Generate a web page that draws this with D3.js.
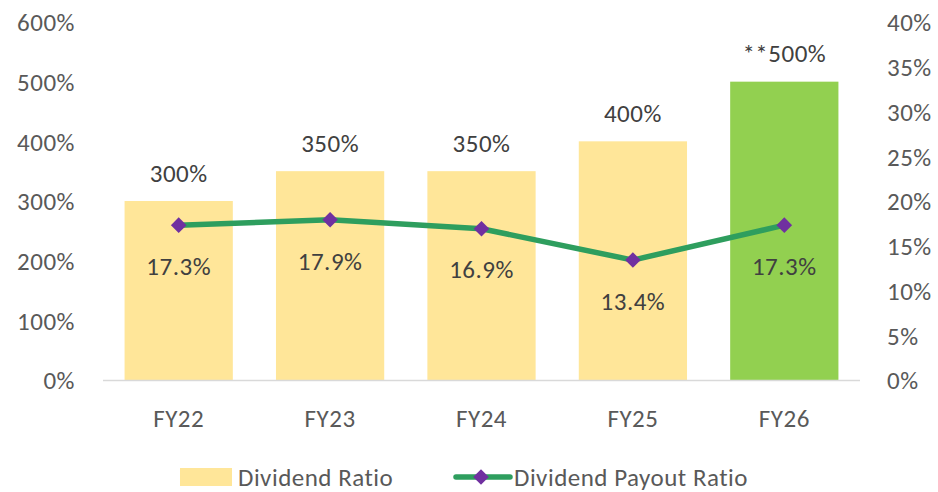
<!DOCTYPE html>
<html>
<head>
<meta charset="utf-8">
<script src="https://cdn.jsdelivr.net/npm/d3@7/dist/d3.min.js"></script>
<style>
  body { margin: 0; background: #fff; }
  text { font-family: Calibri, Carlito, Lato, "Open Sans", sans-serif; letter-spacing: 0.5px; }
</style>
</head>
<body>
<div id="chart"></div>
<script>
  var years = ["FY22", "FY23", "FY24", "FY25", "FY26"];
  var dividendRatio = [300, 350, 350, 400, 500];
  var barLabels = ["300%", "350%", "350%", "400%", "**500%"];
  var payoutRatio = [17.3, 17.9, 16.9, 13.4, 17.3];
  var leftTicks = [0, 100, 200, 300, 400, 500, 600];
  var rightTicks = [0, 5, 10, 15, 20, 25, 30, 35, 40];

  var width = 938, height = 492;
  var plotLeft = 103, plotRight = 860, plotTop = 22, plotBottom = 380;
  var fontSize = "25px";

  var svg = d3.select("#chart").append("svg")
    .attr("width", width)
    .attr("height", height);

  var x = d3.scaleBand().domain(years).range([plotLeft, plotRight]).paddingInner(0.285).paddingOuter(0.1425);
  var yL = d3.scaleLinear().domain([0, 600]).range([plotBottom, plotTop]);
  var yR = d3.scaleLinear().domain([0, 40]).range([plotBottom, plotTop]);

  // left axis
  svg.append("g")
    .attr("transform", "translate(75,0)")
    .call(d3.axisLeft(yL).tickValues(leftTicks).tickSize(0).tickFormat(function (d) { return d + "%"; }))
    .call(function (g) { g.select(".domain").remove(); })
    .selectAll("text")
    .attr("x", 0)
    .attr("dy", "0.35em")
    .style("font-size", fontSize)
    .style("fill", "#595959");

  // right axis
  svg.append("g")
    .attr("transform", "translate(887,0)")
    .call(d3.axisRight(yR).tickValues(rightTicks).tickSize(0).tickFormat(function (d) { return d + "%"; }))
    .call(function (g) { g.select(".domain").remove(); })
    .selectAll("text")
    .attr("x", 0)
    .attr("dy", "0.35em")
    .style("font-size", fontSize)
    .style("fill", "#595959");

  // bars
  svg.selectAll(".bar")
    .data(years)
    .enter().append("rect")
    .attr("class", "bar")
    .attr("x", function (d) { return x(d); })
    .attr("width", x.bandwidth())
    .attr("y", function (d, i) { return yL(dividendRatio[i]); })
    .attr("height", function (d, i) { return plotBottom - yL(dividendRatio[i]); })
    .attr("fill", function (d, i) { return i === years.length - 1 ? "#92D050" : "#FFE699"; });

  // baseline
  svg.append("line")
    .attr("x1", plotLeft).attr("x2", plotRight)
    .attr("y1", plotBottom + 0.5).attr("y2", plotBottom + 0.5)
    .attr("stroke", "#D9D9D9")
    .attr("stroke-width", 1.5);

  // category labels
  svg.append("g")
    .attr("transform", "translate(0," + plotBottom + ")")
    .call(d3.axisBottom(x).tickSize(0))
    .call(function (g) { g.select(".domain").remove(); })
    .selectAll("text")
    .attr("y", 38)
    .attr("dy", "0.35em")
    .style("font-size", fontSize)
    .style("fill", "#595959");

  // bar labels
  svg.selectAll(".barLabel")
    .data(years)
    .enter().append("text")
    .attr("class", "barLabel")
    .attr("x", function (d) { return x(d) + x.bandwidth() / 2; })
    .attr("y", function (d, i) { return yL(dividendRatio[i]) - 28; })
    .attr("dy", "0.35em")
    .attr("text-anchor", "middle")
    .style("font-size", fontSize)
    .style("fill", "#404040")
    .text(function (d, i) { return barLabels[i]; });

  // payout line
  var line = d3.line()
    .x(function (d, i) { return x(years[i]) + x.bandwidth() / 2; })
    .y(function (d) { return yR(d); });

  svg.append("path")
    .datum(payoutRatio)
    .attr("d", line)
    .attr("fill", "none")
    .attr("stroke", "#2E9E5E")
    .attr("stroke-width", 5.5)
    .attr("stroke-linejoin", "round");

  var diamond = d3.symbol().type(d3.symbolDiamond2).size(155);

  svg.selectAll(".marker")
    .data(payoutRatio)
    .enter().append("path")
    .attr("class", "marker")
    .attr("d", diamond)
    .attr("transform", function (d, i) {
      return "translate(" + (x(years[i]) + x.bandwidth() / 2) + "," + yR(d) + ")";
    })
    .attr("fill", "#7030A0");

  svg.selectAll(".lineLabel")
    .data(payoutRatio)
    .enter().append("text")
    .attr("class", "lineLabel")
    .attr("x", function (d, i) { return x(years[i]) + x.bandwidth() / 2; })
    .attr("y", function (d) { return yR(d) + 41; })
    .attr("dy", "0.35em")
    .attr("text-anchor", "middle")
    .style("font-size", fontSize)
    .style("fill", "#404040")
    .text(function (d) { return d.toFixed(1) + "%"; });

  // legend
  var legend = svg.append("g").attr("class", "legend");
  legend.append("rect")
    .attr("x", 180).attr("y", 468)
    .attr("width", 52).attr("height", 18)
    .attr("fill", "#FFE699");
  legend.append("text")
    .attr("x", 238).attr("y", 477)
    .attr("dy", "0.35em")
    .style("font-size", fontSize)
    .style("fill", "#595959")
    .text("Dividend Ratio");

  legend.append("line")
    .attr("x1", 456).attr("x2", 510)
    .attr("y1", 477).attr("y2", 477)
    .attr("stroke", "#2E9E5E")
    .attr("stroke-width", 5.5)
    .attr("stroke-linecap", "round");
  legend.append("path")
    .attr("d", diamond)
    .attr("transform", "translate(481,477)")
    .attr("fill", "#7030A0");
  legend.append("text")
    .attr("x", 514).attr("y", 477)
    .attr("dy", "0.35em")
    .style("font-size", fontSize)
    .style("fill", "#595959")
    .text("Dividend Payout Ratio");
</script>
</body>
</html>
